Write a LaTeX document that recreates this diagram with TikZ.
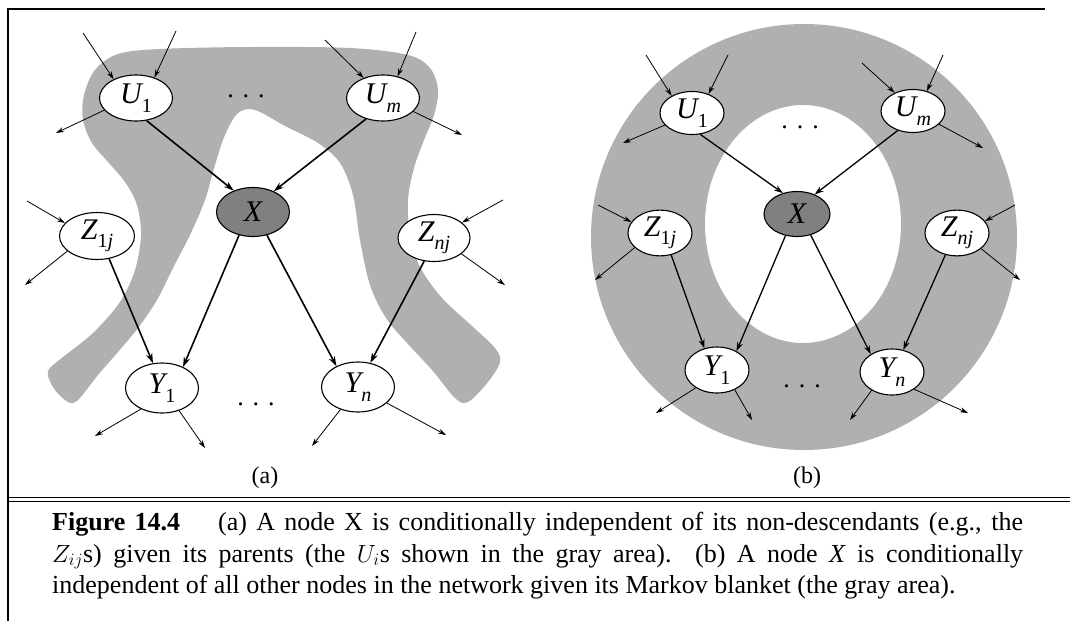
\documentclass[tikz,border=0pt]{standalone}
\usepackage{fontspec}
\setmainfont{Liberation Serif}
\usetikzlibrary{arrows.meta,shapes.geometric}
\newcommand{\lsub}[1]{\raisebox{-0.28em}{\fontsize{20}{20}\selectfont #1}}
\newcommand{\tdots}{.\hspace{9pt}.\hspace{9pt}.}
\colorlet{grayfill}{black!31}
\colorlet{xgray}{black!50}
\tikzset{
  nd/.style={ellipse, draw, line width=1.1pt, fill=white, inner sep=0pt,
    font=\fontsize{30}{30}\selectfont\itshape},
  na/.style={nd, minimum width=73pt, minimum height=46pt},
  nb/.style={nd, minimum width=64pt, minimum height=43pt},
  mainA/.style={line width=1.6pt, -{Stealth[length=10pt,width=6.5pt]}},
  mainB/.style={line width=1.3pt, -{Stealth[length=9pt,width=6pt]}},
  stub/.style={line width=0.8pt, -{Stealth[length=8pt,width=5pt]}},
  lbl/.style={font=\fontsize{24}{24}\selectfont},
  dotsn/.style={font=\fontsize{26}{26}\selectfont, inner sep=0pt},
  captxt/.style={anchor=base west, inner sep=0pt, font=\fontsize{26}{31}\selectfont}
}
\begin{document}
\begin{tikzpicture}[x=1pt,y=-1pt]
\useasboundingbox (0,0) rectangle (1070,621);
% frame
\draw[line width=1.2pt] (8,621) -- (8,9) -- (1045,9);
\draw[line width=0.9pt] (8,497) -- (1070,497);
\draw[line width=0.9pt] (8,501.5) -- (1070,501.5);

% gray region (a)
\fill[grayfill] plot[smooth cycle, tension=0.55] coordinates {
 (50,368) (63,357) (93,333) (120,302) (135,270) (141,235) (137,205) (125,182)
 (108,162) (92,143) (83,120) (84,95) (95,70) (118,54) (160,49) (250,47)
 (350,48) (408,55) (430,68) (438,90) (434,115) (424,140) (414,168) (408,200)
 (410,235) (420,267) (442,298) (472,326) (495,348) (500,362) (488,382)
 (468,402) (455,398) (432,370) (407,343) (386,318) (370,285) (360,240)
 (353,195) (340,163) (318,143) (285,126) (255,110) (238,113) (225,135)
 (215,165) (205,200) (190,235) (173,268) (157,300) (138,328) (118,352)
 (98,375) (78,400) (68,402) (55,390) (48,376)};

% gray ring (b)
\fill[grayfill, even odd rule] (804,237) circle[radius=213]
  (803,224) ellipse[x radius=98, y radius=119];

% ---------- panel (a) nodes ----------
\node[na] (aU1) at (136,98) {U\lsub{\upshape 1}};
\node[na] (aUm) at (383,98) {U\lsub{m}};
\node[na, fill=xgray, minimum height=49pt] (aX) at (253,212) {X};
\node[na, minimum width=75pt, minimum height=47pt] (aZ1) at (97,236) {Z\lsub{\upshape 1\itshape j}};
\node[na, minimum width=72pt, minimum height=47pt] (aZn) at (434,238) {Z\lsub{nj}};
\node[na, minimum height=50pt] (aY1) at (162,388) {Y\lsub{\upshape 1}};
\node[na, minimum height=50pt] (aYn) at (358,387) {Y\lsub{n}};
\node[dotsn] (adt) at (246,96) {\tdots};
\node[dotsn] (adb) at (256,404) {\tdots};
\node[lbl] (alab) at (265,478) {(a)};

% free ends (a)
\coordinate (aU1i1) at (83,33);
\coordinate (aU1i2) at (176,31);
\coordinate (aUmi1) at (325,40);
\coordinate (aUmi2) at (416,32);
\coordinate (aU1o) at (56,133);
\coordinate (aUmo) at (462,135);
\coordinate (aZ1i) at (27,201);
\coordinate (aZ1o) at (25,285);
\coordinate (aZni) at (503,200);
\coordinate (aZno) at (505,285);
\coordinate (aY1o1) at (95,436);
\coordinate (aY1o2) at (205,448);
\coordinate (aYno1) at (312,446);
\coordinate (aYno2) at (446,435);

% edges (a)
\draw[mainA] (aU1.-65) -- (aX.132);
\draw[mainA] (aUm.-129) -- (aX.45);
\draw[mainA] (aX.-121) -- (aY1.45);
\draw[mainA] (aX.-59) -- (aYn.136);
\draw[mainA] (aZ1.-62) -- (aY1.110);
\draw[mainA] (aZn.-113) -- (aYn.63);
\draw[stub] (aU1i1) -- (aU1.140);
\draw[stub] (aU1i2) -- (aU1.48);
\draw[stub] (aUmi1) -- (aUm.134);
\draw[stub] (aUmi2) -- (aUm.56);
\draw[stub] (aU1.-159) -- (aU1o);
\draw[stub] (aUm.-24) -- (aUmo);
\draw[stub] (aZ1i) -- (aZ1.158);
\draw[stub] (aZ1.-153) -- (aZ1o);
\draw[stub] (aZni) -- (aZn.29);
\draw[stub] (aZn.-30) -- (aZno);
\draw[stub] (aY1.-135) -- (aY1o1);
\draw[stub] (aY1.-53) -- (aY1o2);
\draw[stub] (aYn.-128) -- (aYno1);
\draw[stub] (aYn.-29) -- (aYno2);

% ---------- panel (b) nodes ----------
\node[nb] (bU1) at (692,113) {U\lsub{\upshape 1}};
\node[nb] (bUm) at (913,111) {U\lsub{m}};
\node[nb, fill=xgray, minimum width=66pt, minimum height=45pt] (bX) at (797,214) {X};
\node[nb, minimum height=40pt] (bZ1) at (660,233) {Z\lsub{\upshape 1\itshape j}};
\node[nb, minimum height=40pt] (bZn) at (957,233) {Z\lsub{nj}};
\node[nb, minimum height=46pt] (bY1) at (717,370) {Y\lsub{\upshape 1}};
\node[nb, minimum height=46pt] (bYn) at (892,372) {Y\lsub{n}};
\node[dotsn] (bdt) at (800,127) {\tdots};
\node[dotsn] (bdb) at (802,386) {\tdots};
\node[lbl] (blab) at (807,478) {(b)};

% free ends (b)
\coordinate (bU1i1) at (646,55);
\coordinate (bU1i2) at (728,55);
\coordinate (bUmi1) at (862,63);
\coordinate (bUmi2) at (943,55);
\coordinate (bU1o) at (623,143);
\coordinate (bUmo) at (983,148);
\coordinate (bZ1i) at (598,205);
\coordinate (bZ1o) at (595,280);
\coordinate (bZni) at (1015,205);
\coordinate (bZno) at (1020,280);
\coordinate (bY1o1) at (656,413);
\coordinate (bY1o2) at (752,420);
\coordinate (bYno1) at (850,420);
\coordinate (bYno2) at (968,413);

% edges (b)
\draw[mainB] (bU1.-69) -- (bX.124);
\draw[mainB] (bUm.-128) -- (bX.48);
\draw[mainB] (bX.-118) -- (bY1.44);
\draw[mainB] (bX.-57) -- (bYn.140);
\draw[mainB] (bZ1.-63) -- (bY1.120);
\draw[mainB] (bZn.-118) -- (bYn.63);
\draw[stub] (bU1i1) -- (bU1.140);
\draw[stub] (bU1i2) -- (bU1.49);
\draw[stub] (bUmi1) -- (bUm.135);
\draw[stub] (bUmi2) -- (bUm.55);
\draw[stub] (bU1.-156) -- (bU1o);
\draw[stub] (bUm.-27) -- (bUmo);
\draw[stub] (bZ1i) -- (bZ1.159);
\draw[stub] (bZ1.-150) -- (bZ1o);
\draw[stub] (bZni) -- (bZn.23);
\draw[stub] (bZn.-33) -- (bZno);
\draw[stub] (bY1.-140) -- (bY1o1);
\draw[stub] (bY1.-48) -- (bY1o2);
\draw[stub] (bYn.-138) -- (bYno1);
\draw[stub] (bYn.-38) -- (bYno2);

% caption
\node[captxt] (c1) at (52,530) {\makebox[971pt][s]{\textbf{Figure 14.4}\hspace{38pt}(a) A node $\mathrm{X}$ is conditionally independent of its non-descendants (e.g., the}};
\node[captxt] (c2) at (52,562) {\makebox[971pt][s]{$Z_{ij}$s) given its parents (the $U_i$s shown in the gray area). (b) A node \textit{X} is conditionally}};
\node[captxt] (c3) at (52,593) {independent of all other nodes in the network given its Markov blanket (the gray area).};
\end{tikzpicture}
\end{document}
